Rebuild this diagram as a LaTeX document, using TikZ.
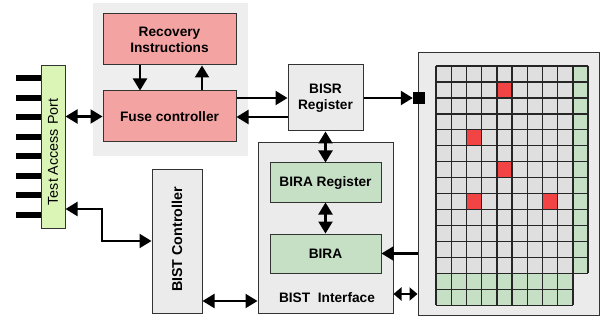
\documentclass[tikz,border=0pt]{standalone}
\usepackage{fontspec}
\setmainfont{Liberation Sans}
\usetikzlibrary{arrows.meta,calc}
\definecolor{pinkbox}{HTML}{F4A3A3}
\definecolor{tapgreen}{HTML}{DAF5B5}
\definecolor{greenbox}{HTML}{C6E0C6}
\definecolor{graybox}{HTML}{EBEBEB}
\definecolor{panelgray}{HTML}{EEEEEE}
\definecolor{redcell}{HTML}{F24444}
\definecolor{edge}{HTML}{333333}
\tikzset{
  box/.style={draw=edge, line width=1pt, inner sep=0pt, align=center,
    font=\fontsize{13.7}{16}\selectfont\bfseries},
  pinkb/.style={box, fill=pinkbox},
  greenb/.style={box, fill=greenbox},
  grayb/.style={box, fill=graybox},
  arr/.style={line width=2.2pt, -{Triangle[length=12pt,width=14pt]}},
  darr/.style={line width=2.2pt, {Triangle[length=12pt,width=14pt]}-{Triangle[length=12pt,width=14pt]}},
  sdarr/.style={line width=2.2pt, {Triangle[length=8pt,width=13pt]}-{Triangle[length=8pt,width=13pt]}},
  pin/.style={line width=6pt},
  gridline/.style={line width=1.4pt, draw=black!85},
}
\begin{document}
\begin{tikzpicture}[x=1pt,y=-1pt]
\useasboundingbox (0,0) rectangle (601,320);
% panel behind recovery/fuse
\node[fill=panelgray, minimum width=155, minimum height=153, inner sep=0pt] (panel) at (170.5,79.5) {};
% boxes
\node[pinkb, minimum width=133, minimum height=51] (recov) at (169.5,39.5) {Recovery\\Instructions};
\node[pinkb, minimum width=133, minimum height=51] (fuse) at (169.5,116.5) {Fuse controller};
\node[box, fill=tapgreen, minimum width=24, minimum height=162] (tap) at (53,147) {};
\node[rotate=90, font=\fontsize{14.3}{16}\selectfont] (taptxt) at (53,152) {Test Access Port};
\node[grayb, minimum width=75, minimum height=66] (bisr) at (325.5,98) {BISR\\Register};
\node[grayb, minimum width=135, minimum height=170] (bisti) at (325.5,228) {};
\node[font=\fontsize{13.7}{16}\selectfont\bfseries] (bistitxt) at (327,298) {BIST\ \ Interface};
\node[greenb, minimum width=111, minimum height=39] (birareg) at (325.5,182.5) {BIRA Register};
\node[greenb, minimum width=111, minimum height=39] (bira) at (325.5,253.5) {BIRA};
\node[grayb, minimum width=50, minimum height=143] (bistc) at (177,241.5) {};
\node[rotate=90, font=\fontsize{14.3}{16}\selectfont\bfseries] (bistctxt) at (177,239.5) {BIST Controller};
\node[grayb, minimum width=181, minimum height=262] (mem) at (508.5,184) {};
% memory grid
\def\gx{436}\def\gy{66}\def\cw{15.2}\def\ch{15.95}
\fill[graybox!95!black] (\gx,\gy) rectangle ({\gx+9*\cw},{\gy+13*\ch});
\fill[greenbox] ({\gx+9*\cw},\gy) rectangle ({\gx+10*\cw},{\gy+13*\ch});
\fill[greenbox] (\gx,{\gy+13*\ch}) rectangle ({\gx+9*\cw},{\gy+15*\ch});
\foreach \r/\c in {1/4,4/2,6/4,8/2,8/7}
  \fill[redcell] ({\gx+\c*\cw},{\gy+\r*\ch}) rectangle ({\gx+(\c+1)*\cw},{\gy+(\r+1)*\ch});
\foreach \i in {0,...,13}
  \draw[gridline] (\gx,{\gy+\i*\ch}) -- ({\gx+10*\cw},{\gy+\i*\ch});
\foreach \i in {14,15}
  \draw[gridline] (\gx,{\gy+\i*\ch}) -- ({\gx+9*\cw},{\gy+\i*\ch});
\foreach \j in {0,...,9}
  \draw[gridline] ({\gx+\j*\cw},\gy) -- ({\gx+\j*\cw},{\gy+15*\ch});
\draw[gridline] ({\gx+10*\cw},\gy) -- ({\gx+10*\cw},{\gy+13*\ch});
% black square
\node[fill=black, minimum size=12, inner sep=0pt] (sq) at (419,98) {};
% pins
\foreach \k in {0,...,7}
  \draw[pin] (16,{78+\k*19.57}) -- (tap.west |- 0,{78+\k*19.57});
% helper coordinates
\coordinate (xa) at (140,0);
\coordinate (xb) at (202,0);
\coordinate (xc) at (102,0);
\coordinate (yb) at (0,117);
\coordinate (yc) at (0,294);
\coordinate (yd) at (0,209);
\coordinate (ye) at (0,241);
\coordinate (yf) at (0,301);
% connectors
\draw[arr] (recov.south -| xa) -- (fuse.north -| xa);
\draw[arr] (fuse.north -| xb) -- (recov.south -| xb);
\draw[darr] (tap.east |- fuse.west) -- (fuse.west);
\draw[arr] (fuse.east |- bisr.west) -- (bisr.west);
\draw[arr] (bisr.west |- yb) -- (fuse.east |- yb);
\draw[arr] (bisr.east) -- (sq.west);
\draw[darr] (bisr.south) -- (birareg.north);
\draw[darr] (birareg.south) -- (bira.north);
\draw[arr] (mem.west |- bira.east) -- (bira.east);
\draw[sdarr] (bisti.east |- yc) -- (mem.west |- yc);
\draw[darr] (tap.east |- yd) -| (xc |- ye) -- (bistc.west |- ye);
\draw[darr] (bistc.east |- yf) -- (bisti.west |- yf);
\end{tikzpicture}
\end{document}
